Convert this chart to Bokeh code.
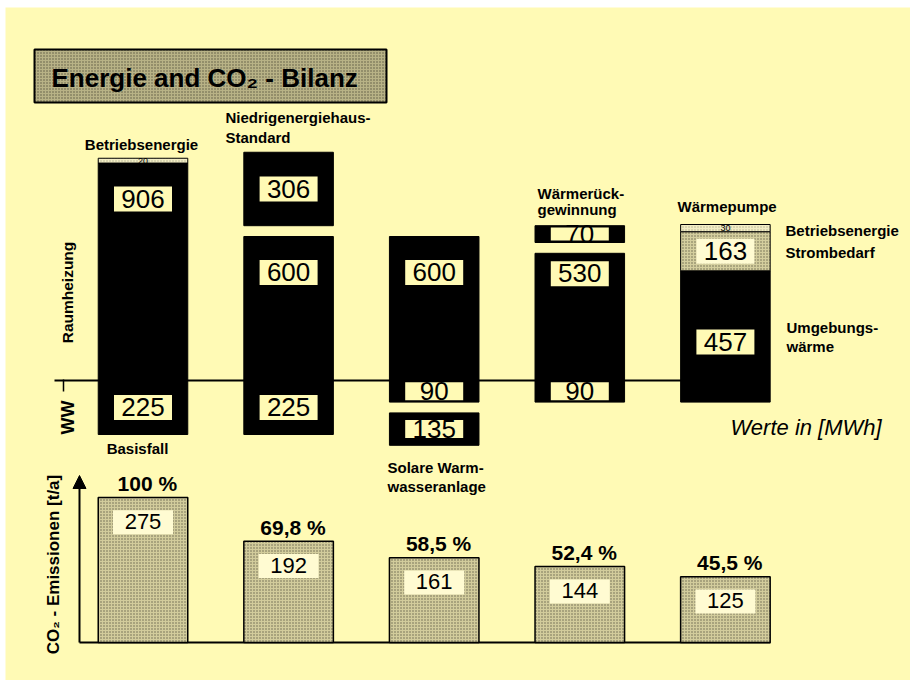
import math
from bokeh.plotting import figure
from bokeh.models import Range1d, Arrow, NormalHead
from bokeh.core.properties import value
from bokeh.embed import file_html
from bokeh.resources import INLINE

# ---------------- data ----------------
szenarien = ["Basisfall", "Niedrigenergiehaus-Standard", "Solare Warmwasseranlage",
             "Wärmerückgewinnung", "Wärmepumpe"]
raumheizung = [906, 600, 600, 530, 457]        # MWh (Wärmepumpe: Umgebungswärme)
warmwasser = [225, 225, 90, 90, 90]            # MWh
betriebsenergie = [20, 0, 0, 0, 30]            # MWh
strombedarf = [0, 0, 0, 0, 163]                # MWh
einsparung_rh = [0, 306, 0, 70, 0]             # abgetrennter Block oben
einsparung_ww = [0, 0, 135, 0, 0]              # abgetrennter Block unten
co2_emission = [275, 192, 161, 144, 125]       # t/a
co2_prozent = ["100 %", "69,8 %", "58,5 %", "52,4 %", "45,5 %"]

# ---------------- layout helpers (page px -> data) ----------------
BG = "#FFFAB5"
FONT = value("Liberation Sans")


def X(px):
    return (px - 142.5) / 145.6


def Y(py):
    return (380 - py) / 0.24


def Y2(py):
    return (642 - py) / 0.527


p = figure(width=910, height=680, output_backend="svg", toolbar_location=None,
           x_range=Range1d(X(5), X(910)), y_range=Range1d(Y(680), Y(7)),
           x_axis_location=None, y_axis_location=None,
           min_border_left=5, min_border_top=7, min_border_right=0, min_border_bottom=0,
           background_fill_color=BG, border_fill_color="white", outline_line_color=None)
p.extra_y_ranges = {"co2": Range1d(Y2(680), Y2(7))}
p.grid.visible = False


def txt(x, y, s, size, style="bold", align="left", angle=0.0, rn="default", color="black"):
    p.text(x=[x], y=[y], text=[s], text_font=FONT, text_font_size=f"{size}px",
           text_font_style=style, text_align=align, text_baseline="middle",
           angle=angle, text_color=color, y_range_name=rn)


xs = list(range(len(szenarien)))
BW = 0.615
GAP = 45
STIP = dict(hatch_pattern="dot", hatch_color="black", hatch_alpha=0.5,
            hatch_scale=3, hatch_weight=1)

# ---------------- title ----------------
p.quad(left=[X(34)], right=[X(386)], top=[Y(49)], bottom=[Y(102)],
       fill_color="#B8B286", line_color="black", line_width=2, **STIP)
txt(X(51), Y(77), "Energie and CO₂ - Bilanz", 26)

# ---------------- energy chart ----------------
p.segment(x0=[X(54)], y0=[0], x1=[X(681)], y1=[0], line_color="black", line_width=2)
p.segment(x0=[X(63)], y0=[Y(379)], x1=[X(63)], y1=[Y(391)], line_color="black", line_width=1.5)

p.vbar(x=xs, bottom=[-w for w in warmwasser], top=raumheizung, width=BW,
       fill_color="black", line_color="black")

i_rh = [i for i, e in enumerate(einsparung_rh) if e > 0]
p.vbar(x=i_rh, bottom=[raumheizung[i] + GAP for i in i_rh],
       top=[raumheizung[i] + GAP + einsparung_rh[i] for i in i_rh],
       width=BW, fill_color="black", line_color="black")

i_ww = [i for i, e in enumerate(einsparung_ww) if e > 0]
p.vbar(x=i_ww, top=[-warmwasser[i] - GAP for i in i_ww],
       bottom=[-warmwasser[i] - GAP - einsparung_ww[i] for i in i_ww],
       width=BW, fill_color="black", line_color="black")

i_sb = [i for i, s in enumerate(strombedarf) if s > 0]
p.vbar(x=i_sb, bottom=[raumheizung[i] for i in i_sb],
       top=[raumheizung[i] + strombedarf[i] for i in i_sb],
       width=BW, fill_color="#D4CE9E", line_color="black", line_width=1, **STIP)

i_be = [i for i, b in enumerate(betriebsenergie) if b > 0]
p.vbar(x=i_be, bottom=[raumheizung[i] + strombedarf[i] for i in i_be],
       top=[raumheizung[i] + strombedarf[i] + betriebsenergie[i] for i in i_be],
       width=BW, fill_color="#F2EDC4", line_color="black", line_width=1,
       hatch_pattern="dot", hatch_color="black", hatch_alpha=0.25, hatch_scale=3)
for i in i_be:
    txt(i, raumheizung[i] + strombedarf[i] + betriebsenergie[i] / 2,
        str(betriebsenergie[i]), 9, style="normal", align="center")

# value boxes
boxes = []  # (x, y, text, value, fill)
rh_label_y = [raumheizung[i] - 150 for i in range(3)] + [raumheizung[3] - 85,
                                                          raumheizung[4] * 0.35]
for i in xs:
    boxes.append((i, rh_label_y[i], str(raumheizung[i]), raumheizung[i], BG))
for i in range(4):
    boxes.append((i, -warmwasser[i] / 2, str(warmwasser[i]), warmwasser[i], BG))
for i in i_rh:
    boxes.append((i, raumheizung[i] + GAP + einsparung_rh[i] / 2,
                  str(einsparung_rh[i]), einsparung_rh[i], BG))
for i in i_ww:
    boxes.append((i, -warmwasser[i] - GAP - einsparung_ww[i] / 2,
                  str(einsparung_ww[i]), einsparung_ww[i], BG))
for i in i_sb:
    boxes.append((i, raumheizung[i] + strombedarf[i] / 2, str(strombedarf[i]),
                  strombedarf[i], "#FFFBD2"))


def box_h(v):
    return 25 if v >= 150 else (18 if v >= 90 else 13)


p.rect(x=[b[0] for b in boxes], y=[b[1] for b in boxes], width=58,
       height=[box_h(b[3]) for b in boxes], width_units="screen", height_units="screen",
       fill_color=[b[4] for b in boxes], line_color=None)
p.text(x=[b[0] for b in boxes], y=[b[1] + 1 for b in boxes], text=[b[2] for b in boxes],
       text_font=FONT, text_font_size="26px", text_align="center", text_baseline="middle",
       text_color="black")

# energy chart labels
wp = 4
wp_top = raumheizung[wp] + strombedarf[wp] + betriebsenergie[wp]
txt(X(141), Y(144), "Betriebsenergie", 15, align="center")
txt(X(225), Y(117), "Niedrigenergiehaus-", 15)
txt(X(225), Y(137), "Standard", 15)
txt(X(137), Y(448), "Basisfall", 15, align="center")
txt(X(387), Y(467), "Solare Warm-", 15)
txt(X(387), Y(486), "wasseranlage", 15)
txt(X(537), Y(193), "Wärmerück-", 15)
txt(X(537), Y(209), "gewinnung", 15)
txt(X(677), wp_top + 18 / 0.24, "Wärmepumpe", 15)
txt(X(785), raumheizung[wp] + strombedarf[wp] + betriebsenergie[wp] / 2 - 2 / 0.24,
    "Betriebsenergie", 15)
txt(X(785), raumheizung[wp] + strombedarf[wp] - 21 / 0.24, "Strombedarf", 15)
txt(X(786), Y(327), "Umgebungs-", 15)
txt(X(786), Y(346), "wärme", 15)
txt(X(730), Y(427), "Werte in [MWh]", 22, style="italic")
txt(X(67), Y(292), "Raumheizung", 15.5, align="center", angle=math.pi / 2)
txt(X(67), Y(417), "WW", 18, align="center", angle=math.pi / 2)

# ---------------- CO2 chart ----------------
p.segment(x0=[X(79)], y0=[0], x1=[X(770)], y1=[0], line_color="black",
          line_width=2, y_range_name="co2")
p.add_layout(Arrow(end=NormalHead(size=13, fill_color="black", line_color="black"),
                   x_start=X(79), y_start=0, x_end=X(79), y_end=Y2(475),
                   line_width=2, line_color="black", y_range_name="co2"))

p.vbar(x=xs, bottom=0, top=co2_emission, width=BW, y_range_name="co2",
       fill_color="#D2CC9C", line_color="black", line_width=1.5, **STIP)
p.rect(x=xs, y=[v - 47 for v in co2_emission], width=60, height=24,
       width_units="screen", height_units="screen", fill_color="#FFFBD2",
       line_color=None, y_range_name="co2")
p.text(x=xs, y=[v - 46 for v in co2_emission], text=[str(v) for v in co2_emission],
       text_font=FONT, text_font_size="22px", text_align="center",
       text_baseline="middle", y_range_name="co2")
p.text(x=[i + 0.03 for i in xs], y=[v + 27 for v in co2_emission], text=co2_prozent,
       text_font=FONT, text_font_size="21px", text_font_style="bold",
       text_align="center", text_baseline="middle", y_range_name="co2")
txt(X(53), Y2(564), "CO₂ - Emissionen [t/a]", 17, align="center",
    angle=math.pi / 2, rn="co2")

open("out.html", "w").write(file_html(p, INLINE))
